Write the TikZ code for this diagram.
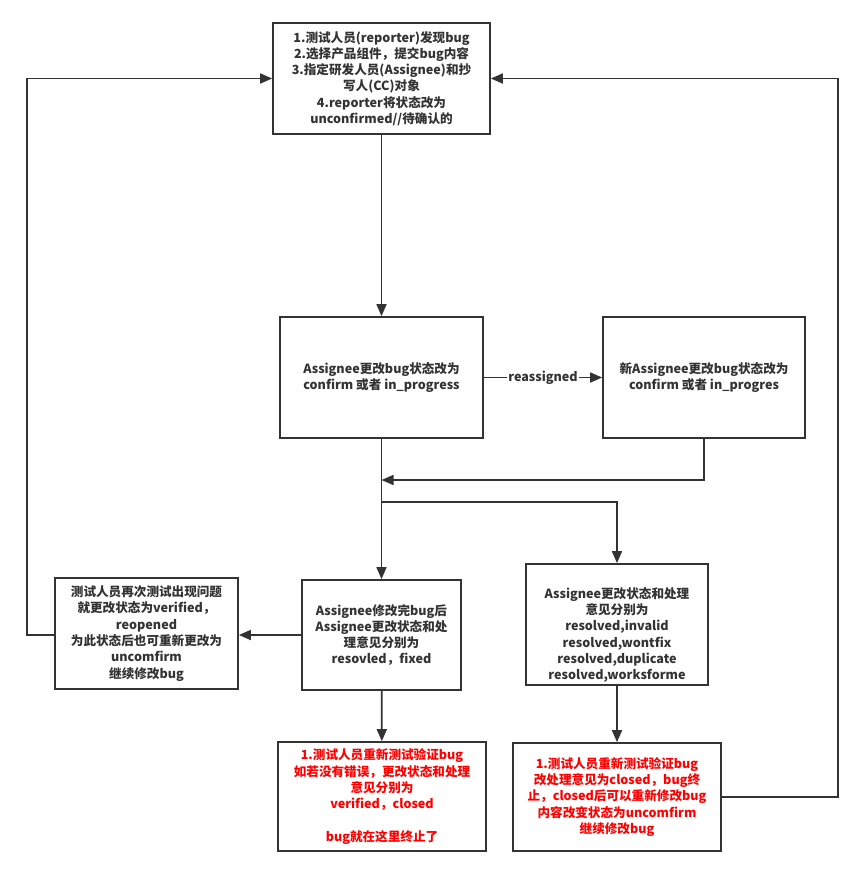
\documentclass[tikz,border=0pt]{standalone}
\usepackage{fontspec}
\setmainfont{Noto Sans CJK SC}
\usetikzlibrary{arrows.meta}
\definecolor{ink}{HTML}{333333}
\definecolor{redtxt}{HTML}{FF0000}
\begin{document}
\begin{tikzpicture}[x=1pt,y=-1pt,
  box/.style={draw=ink,line width=1.7pt,rectangle,align=center,inner sep=2pt,
    font=\fontsize{12.6}{16.3}\selectfont\bfseries,text=ink},
  redbox/.style={box,text=redtxt},
  arr/.style={draw=ink,line width=1.7pt,-{Triangle[length=12pt,width=10pt]}},
  lbl/.style={fill=white,inner sep=1pt,font=\fontsize{12.6}{15}\selectfont\bfseries,text=ink}]
\fill[white] (0,0) rectangle (863,876);
\useasboundingbox (0,0) rectangle (863,876);
\node[box,minimum width=217pt,minimum height=111pt] (top) at (381.5,78.5)
 {1.测试人员(reporter)发现bug\\2.选择产品组件，提交bug内容\\3.指定研发人员(Assignee)和抄\\写人(CC)对象\\4.reporter将状态改为\\unconfirmed//待确认的};
\node[box,minimum width=203pt,minimum height=121pt] (b2) at (381.5,377.5)
 {Assignee更改bug状态改为\\confirm 或者 in\_progress};
\node[box,minimum width=202pt,minimum height=121pt] (b3) at (704,377.5)
 {新Assignee更改bug状态改为\\confirm 或者 in\_progres};
\node[box,minimum width=183pt,minimum height=111pt] (b4) at (146.5,633.5)
 {测试人员再次测试出现问题\\就更改状态为verified，\\reopened\\为此状态后也可重新更改为\\uncomfirm\\继续修改bug};
\node[box,minimum width=159pt,minimum height=110pt] (b5) at (381.5,635)
 {Assignee修改完bug后\\Assignee更改状态和处\\理意见分别为\\resovled，fixed};
\node[box,minimum width=182pt,minimum height=121pt] (b6) at (617,624.5)
 {\rule{0pt}{32pt}Assignee更改状态和处理\\意见分别为\\resolved,invalid\\resolved,wontfix\\resolved,duplicate\\resolved,worksforme};
\node[redbox,minimum width=208pt,minimum height=109pt] (b7) at (382,796.5)
 {1.测试人员重新测试验证bug\\如若没有错误，更改状态和处理\\意见分别为\\verified，closed\\ \\bug就在这里终止了};
\node[redbox,minimum width=208pt,minimum height=108pt] (b8) at (617,797)
 {1.测试人员重新测试验证bug\\改处理意见为closed，bug终\\止，closed后可以重新修改bug\\内容改变状态为uncomfirm\\继续修改bug};
\coordinate (j1) at (381.5,480);
\coordinate (j2) at (381.5,502);
\coordinate (l1) at (27,635);
\coordinate (r1) at (838,797);
\draw[arr] (top) -- (b2);
\draw[arr] (b2) -- node[lbl] (rl) {reassigned} (b3);
\draw[arr] (b3.south) |- (j1);
\draw[arr] (b2.south) -- (b5.north);
\draw[arr] (j2) -| (b6.north);
\draw[arr] (b5.west) -- (b4.east |- b5.west);
\draw[arr] (b4.west |- l1) -- (l1) |- (top.west);
\draw[arr] (b8.east) -- (r1) |- (top.east);
\draw[arr] (b5) -- (b7);
\draw[arr] (b6) -- (b8);
\end{tikzpicture}
\end{document}
